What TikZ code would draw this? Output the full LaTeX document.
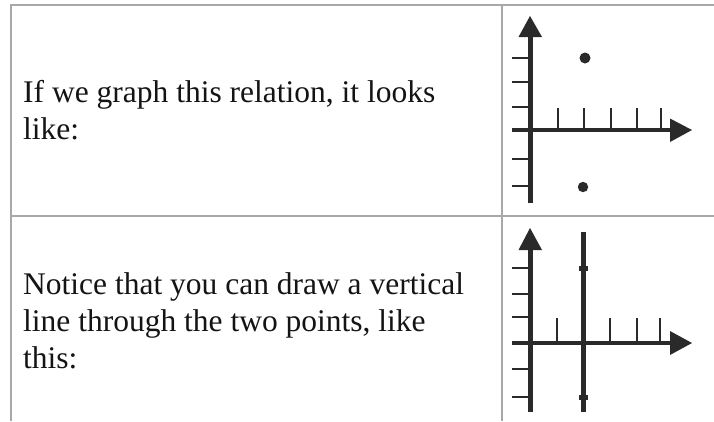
\documentclass[tikz,border=0pt]{standalone}
\usepackage{fontspec}
\setmainfont{Liberation Serif}
\definecolor{ink}{HTML}{2A2A2A}
\definecolor{rule}{HTML}{A8A8A8}
\definecolor{txt}{HTML}{141414}
\begin{document}
\begin{tikzpicture}[x=1pt,y=-1pt,
  border/.style={draw=rule,line width=1.4pt},
  axisline/.style={draw=ink,line width=5pt},
  haxis/.style={draw=ink,line width=4pt},
  tickline/.style={draw=ink,line width=1.8pt},
  tip/.style={fill=ink},
  label/.style={anchor=base west,inner sep=0pt,text=txt,font=\fontsize{31.5}{37}\selectfont}]
\useasboundingbox[fill=white] (0,0) rectangle (714,421);
% table borders
\draw[border] (10,5) -- (714,5);
\draw[border] (11,5) -- (11,421);
\draw[border] (502,5) -- (502,421);
\draw[border] (11,216) -- (714,216);
% texts
\node[label] (t1a) at (23,102) {If we graph this relation, it looks};
\node[label] (t1b) at (23,139) {like:};
\node[label] (t2a) at (23,294) {Notice that you can draw a vertical};
\node[label] (t2b) at (23,331) {line through the two points, like};
\node[label] (t2c) at (23,368) {this:};
% ---- top graph ----
\foreach \y in {58,82,107,159,186} \draw[tickline] (512,\y) -- (530,\y);
\foreach \x in {558,584,611,637,661} \draw[tickline] (\x,108) -- (\x,130);
\draw[haxis] (512,130) -- (671,130);
\fill[tip] (670,118.5) -- (692,130) -- (670,142) -- cycle;
\draw[axisline] (530,203) -- (530,36);
\fill[tip] (518.5,37) -- (530,16) -- (542,37) -- cycle;
\fill[ink] (585,58) circle (5.5pt);
\fill[ink] (583,187) circle (5.2pt);
% ---- bottom graph ----
\foreach \y in {268,294,317,369,397} \draw[tickline] (512,\y) -- (530,\y);
\foreach \x in {557,610,637,660} \draw[tickline] (\x,318) -- (\x,343);
\draw[haxis] (512,343) -- (671,343);
\fill[tip] (670,331) -- (692,343) -- (670,355) -- cycle;
\draw[axisline] (530,412) -- (530,249);
\fill[tip] (518.5,250) -- (530,228) -- (542,250) -- cycle;
\draw[axisline] (583,232) -- (583,412);
\fill[ink] (578.5,266) rectangle (587.5,270.5);
\fill[ink] (578.5,395) rectangle (587.5,399.5);
\end{tikzpicture}
\end{document}
